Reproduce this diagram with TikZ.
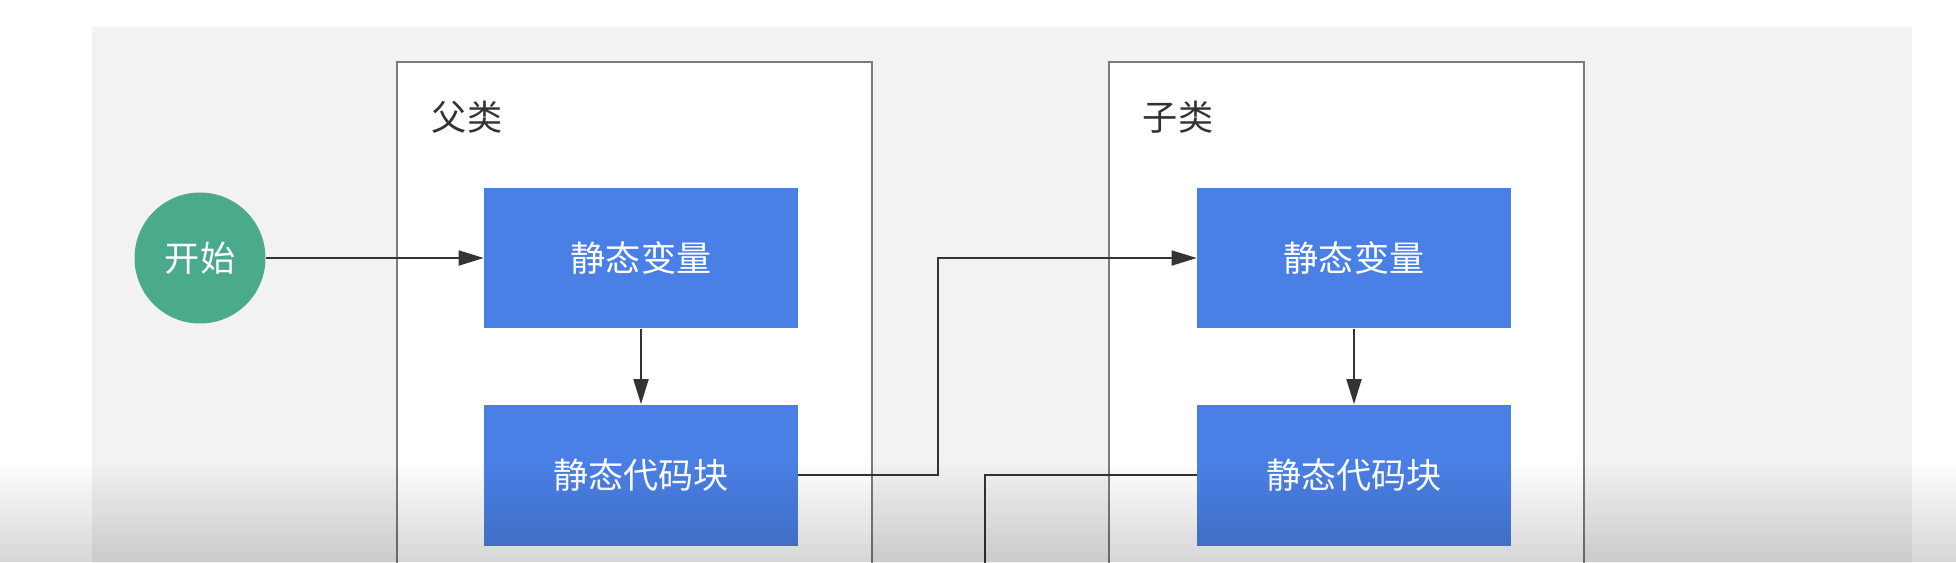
\documentclass[tikz,border=0pt]{standalone}
\usepackage{fontspec}
\setmainfont{Noto Sans CJK SC}
\usetikzlibrary{arrows.meta,fadings}
\definecolor{bgGray}{HTML}{F2F2F2}
\definecolor{boxBlue}{HTML}{4A80E5}
\definecolor{startGreen}{HTML}{4BA98C}
\definecolor{frameGray}{HTML}{7A7A7A}
\definecolor{lineGray}{HTML}{333333}
\tikzset{
  stepbox/.style={fill=boxBlue, text=white, minimum width=6.28cm, minimum height=2.82cm, inner sep=0pt},
  startnode/.style={circle, fill=startGreen, text=white, minimum size=2.62cm, inner sep=0pt},
  classframe/.style={draw=frameGray, fill=white, line width=1pt},
  classtitle/.style={text=lineGray, inner sep=0pt},
  flow/.style={draw=lineGray, line width=1pt, -{Triangle[length=0.5cm,width=0.3cm]}},
  link/.style={draw=lineGray, line width=1pt}
}
\begin{document}
\begin{tikzpicture}[x=0.02cm,y=-0.02cm,font=\fontsize{20}{24}\selectfont]
  \clip (0,0) rectangle (1956,562);
  \fill[white] (0,0) rectangle (1956,562);
  \fill[bgGray] (92,27) rectangle (1912,600);
  \draw[classframe] (397,62) rectangle (872,620);
  \draw[classframe] (1109,62) rectangle (1584,620);
  \node[classtitle] (pTitle) at (467,117) {父类};
  \node[classtitle] (cTitle) at (1178,117) {子类};
  \node[startnode] (start) at (200,258) {开始};
  \node[stepbox] (pVar) at (641,258) {静态变量};
  \node[stepbox] (pBlock) at (641,475) {静态代码块};
  \node[stepbox] (cVar) at (1354,258) {静态变量};
  \node[stepbox] (cBlock) at (1354,475) {静态代码块};
  \coordinate (exit) at (985,600);
  \draw[flow] (start) -- (pVar);
  \draw[flow] (pVar) -- (pBlock);
  \draw[flow] (pBlock.east) -- ++(140,0) |- (cVar.west);
  \draw[flow] (cVar) -- (cBlock);
  \draw[link] (cBlock.west) -| (exit);
  \fill[black, opacity=0.16, path fading=north] (0,460) rectangle (1956,562);
\end{tikzpicture}
\end{document}
